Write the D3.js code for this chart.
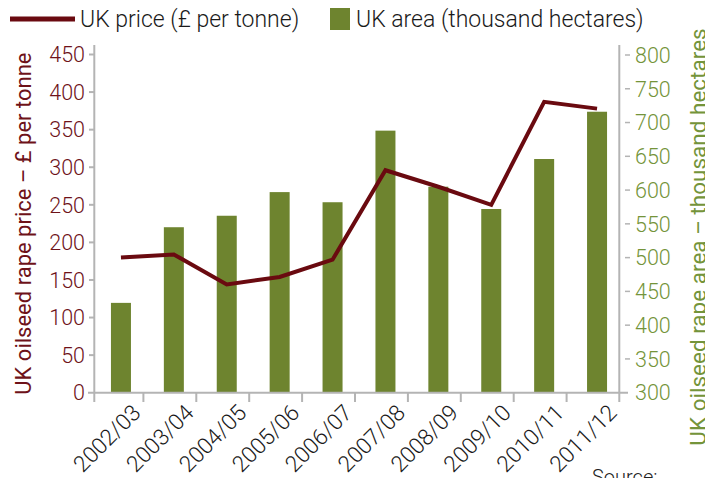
<!DOCTYPE html>
<html>
<head>
<meta charset="utf-8">
<script src="https://cdn.jsdelivr.net/npm/d3@7"></script>
<style>
  body { margin: 0; background: #fff; }
  svg text { font-family: Roboto, "Liberation Sans", sans-serif; font-weight: 300; }
</style>
</head>
<body>
<svg id="chart" width="705" height="478"></svg>
<script>
// chart data
var seasons = ['2002/03', '2003/04', '2004/05', '2005/06', '2006/07',
               '2007/08', '2008/09', '2009/10', '2010/11', '2011/12'];
var ukPrice = [180, 184, 144, 154, 177, 296, 274, 250, 387, 378];
var ukArea = [433, 545, 562, 597, 582, 688, 605, 572, 646, 716];
var priceTicks = [0, 50, 100, 150, 200, 250, 300, 350, 400, 450];
var areaTicks = [300, 350, 400, 450, 500, 550, 600, 650, 700, 750, 800];

var priceColour = '#6a0a10';
var priceText = '#6e1219';
var barColour = '#6e842f';
var areaText = '#74943a';
var axisGrey = '#b4b4b4';

var svg = d3.select('#chart');

var plotLeft = 94.3, plotRight = 619.3, plotTop = 54.5, plotBottom = 392.7;

var x = d3.scaleBand().domain(seasons).range([90.5, 619.5]).padding(0);
var yPrice = d3.scaleLinear().domain([0, 450]).range([plotBottom, plotTop]);
var yArea = d3.scaleLinear().domain([300, 800]).range([plotBottom, 55]);

function centre (d) {
    return x(d) + x.bandwidth() / 2 + 4;
}

// bars
svg.append('g').selectAll('rect')
    .data(seasons)
    .enter().append('rect')
    .attr('x', function (d) { return centre(d) - 10; })
    .attr('width', 20)
    .attr('y', function (d, i) { return yArea(ukArea[i]); })
    .attr('height', function (d, i) { return plotBottom - yArea(ukArea[i]); })
    .attr('fill', barColour);

// axis lines
var axes = svg.append('g').attr('stroke', axisGrey).attr('stroke-width', 2);
axes.append('line').attr('x1', 88).attr('x2', 628).attr('y1', plotBottom).attr('y2', plotBottom);
axes.append('line').attr('x1', plotLeft).attr('x2', plotLeft).attr('y1', 45).attr('y2', 402);
axes.append('line').attr('x1', plotRight).attr('x2', plotRight).attr('y1', 45).attr('y2', 402);

// x ticks between bands
axes.selectAll('.xtick')
    .data(seasons.slice(1))
    .enter().append('line')
    .attr('x1', function (d) { return x(d); })
    .attr('x2', function (d) { return x(d); })
    .attr('y1', plotBottom).attr('y2', 402);

// left ticks
axes.selectAll('.ltick')
    .data(priceTicks.slice(1))
    .enter().append('line')
    .attr('x1', 89).attr('x2', plotLeft)
    .attr('y1', function (d) { return yPrice(d); })
    .attr('y2', function (d) { return yPrice(d); });

// right ticks (detached dashes)
svg.append('g').selectAll('line')
    .data(areaTicks.slice(1))
    .enter().append('line')
    .attr('x1', 625).attr('x2', 630)
    .attr('y1', function (d) { return yArea(d); })
    .attr('y2', function (d) { return yArea(d); })
    .attr('stroke', axisGrey).attr('stroke-width', 1.5);

// price line
var line = d3.line()
    .x(function (d) { return centre(d); })
    .y(function (d, i) { return yPrice(ukPrice[i]); });

svg.append('path')
    .datum(seasons)
    .attr('d', line)
    .attr('fill', 'none')
    .attr('stroke', priceColour)
    .attr('stroke-width', 4);

// tick labels
svg.append('g').selectAll('text')
    .data(priceTicks)
    .enter().append('text')
    .attr('x', 85)
    .attr('y', function (d) { return yPrice(d); })
    .attr('dy', '0.36em')
    .attr('text-anchor', 'end')
    .style('font-size', '21.5px')
    .attr('fill', priceText)
    .text(function (d) { return d; });

svg.append('g').selectAll('text')
    .data(areaTicks)
    .enter().append('text')
    .attr('x', 635)
    .attr('y', function (d) { return yArea(d); })
    .attr('dy', '0.36em')
    .style('font-size', '21.5px')
    .attr('fill', areaText)
    .text(function (d) { return d; });

svg.append('g').selectAll('text')
    .data(seasons)
    .enter().append('text')
    .attr('transform', function (d) {
        return 'translate(' + (centre(d) + 10) + ',403) rotate(-45)';
    })
    .attr('text-anchor', 'end')
    .attr('dy', '0.7em')
    .style('font-size', '22.5px')
    .attr('fill', '#1a1a1a')
    .text(function (d) { return d; });

// axis titles
svg.append('text')
    .attr('transform', 'translate(31,' + ((plotTop + plotBottom) / 2) + ') rotate(-90)')
    .attr('text-anchor', 'middle')
    .style('font-size', '22px')
    .style('font-weight', 400)
    .attr('fill', priceText)
    .text('UK oilseed rape price – £ per tonne');

svg.append('text')
    .attr('transform', 'translate(706,237) rotate(-90)')
    .attr('text-anchor', 'middle')
    .style('font-size', '22.5px')
    .style('font-weight', 400)
    .attr('fill', areaText)
    .text('UK oilseed rape area – thousand hectares');

// legend
var legend = svg.append('g');
legend.append('line')
    .attr('x1', 10).attr('x2', 75).attr('y1', 19).attr('y2', 19)
    .attr('stroke', priceColour).attr('stroke-width', 5);
legend.append('text')
    .attr('x', 80).attr('y', 19).attr('dy', '0.36em')
    .style('font-size', '23px').attr('fill', '#1a1a1a')
    .text('UK price (£ per tonne)');
legend.append('rect')
    .attr('x', 330).attr('y', 8).attr('width', 20).attr('height', 22)
    .attr('fill', barColour);
legend.append('text')
    .attr('x', 356).attr('y', 19).attr('dy', '0.36em')
    .style('font-size', '23px').attr('fill', '#1a1a1a')
    .text('UK area (thousand hectares)');

svg.append('text')
    .attr('x', 592).attr('y', 484)
    .style('font-size', '20px').attr('fill', '#222')
    .text('Source:');
</script>
</body>
</html>
